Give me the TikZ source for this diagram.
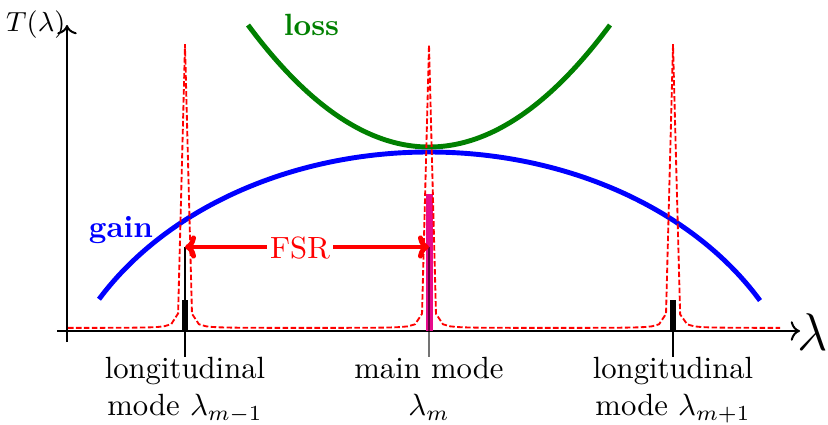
\documentclass[tikz,border=0pt]{standalone}
\usetikzlibrary{arrows.meta}
\definecolor{lossgreen}{rgb}{0,0.5,0}
\definecolor{modepink}{RGB}{232,10,140}
\begin{document}
\begin{tikzpicture}[x=0.3257pt,y=-0.3257pt,
  declare function={lor(\d)=283/(1+(min(abs(\d),150)/1.6)^2);
                    tr(\x)=331-3-lor(\x-185)-lor(\x-429)-lor(\x-673);},
  axisline/.style={line width=0.65pt,->},
  curvegain/.style={line width=1.6pt,blue},
  curveloss/.style={line width=1.6pt,lossgreen},
  lorline/.style={red,line width=0.6pt,dash pattern=on 1.8pt off 0.8pt},
  modebar/.style={fill=black,draw=none},
  guide/.style={line width=0.4pt,black},
  modelabel/.style={anchor=north,inner sep=0pt,align=center,font=\normalsize},
  fsrarrow/.style={red,line width=1.6pt,{Computer Modern Rightarrow[scale=0.7]}-{Computer Modern Rightarrow[scale=0.7]}}]
\useasboundingbox (0,0) rectangle (828,424);

% named coordinates
\coordinate (o) at (67,331);
\coordinate (ytop) at (67,25);
\coordinate (ybot) at (67,342);
\coordinate (xleft) at (57,331);
\coordinate (xright) at (800,331);
\coordinate (p1) at (185,331);
\coordinate (p2) at (429,331);
\coordinate (p3) at (673,331);
\coordinate (f1) at (185,247);
\coordinate (f2) at (429,247);
\coordinate (l1) at (185,357);
\coordinate (l2) at (429,357);
\coordinate (l3) at (673,357);

% gain and loss curves
\draw[curvegain] plot[domain=99:760,samples=120,smooth] (\x,{444-292*sqrt(max(0,1-((\x-429)/380)^2))});
\draw[curveloss] plot[domain=248:610,samples=100,smooth] (\x,{147-122*((\x-429)/181)^2});

% axes
\draw[axisline] (ybot) -- (ytop);
\draw[axisline] (xleft) -- (xright);

% side mode bars
\fill[modebar] (182,300) rectangle (188,331);
\fill[modebar] (670,300) rectangle (676,331);

% main mode bar
\fill[modepink] (426,194) rectangle (432.5,331);

% transmission
\draw[lorline] plot[domain=68:185,samples=18] (\x,{tr(\x)})
  -- plot[domain=185:429,samples=36] (\x,{tr(\x)})
  -- plot[domain=429:673,samples=36] (\x,{tr(\x)})
  -- plot[domain=673:780,samples=16] (\x,{tr(\x)});

% guide lines
\draw[guide] (f1) -- (l1);
\draw[guide,draw opacity=0.55] (f2) -- (l2);
\draw[guide] (p3) -- (l3);

% FSR arrow
\draw[fsrarrow] (f1) -- (f2);
\node[red,fill=white,inner xsep=1pt,inner ysep=1pt,anchor=base] (fsr) at (300,258) {FSR};

% labels
\node[anchor=base east,inner sep=0pt,font=\small] (tl) at (66,31) {$T(\lambda)$};
\node[anchor=base west,inner sep=0pt,font=\LARGE] (lam) at (797,350) {$\lambda$};
\node[blue,anchor=base,inner sep=0pt] (gain) at (121,237) {\textbf{gain}};
\node[lossgreen,anchor=base,inner sep=0pt] (loss) at (311.5,35) {\textbf{loss}};
\node[modelabel] (m1) at (l1) {longitudinal\\mode $\lambda_{m-1}$};
\node[modelabel] (m2) at (l2) {main mode\\$\lambda_m$};
\node[modelabel] (m3) at (l3) {longitudinal\\mode $\lambda_{m+1}$};
\end{tikzpicture}
\end{document}
